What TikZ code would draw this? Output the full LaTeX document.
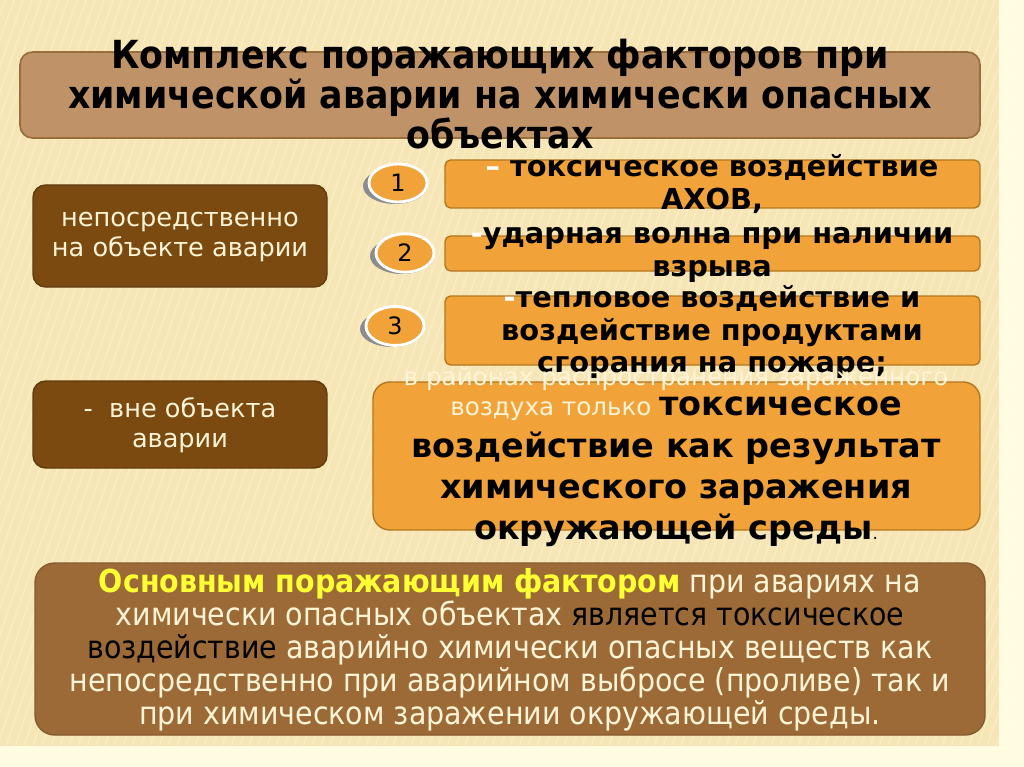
\documentclass[tikz,border=0pt]{standalone}
\usepackage{fontspec}
\setmainfont{DejaVu Sans}
\newfontfamily\condfont{DejaVu Sans Condensed}
\usetikzlibrary{shapes.geometric}

\definecolor{slidebg}{HTML}{F6E5B5}
\definecolor{paper}{HTML}{FFFCE2}
\definecolor{stripe}{HTML}{F9ECC6}
\definecolor{tanfill}{HTML}{BF9367}
\definecolor{tanline}{HTML}{9A6E3C}
\definecolor{darkbrown}{HTML}{7A4A10}
\definecolor{midbrown}{HTML}{9C6A36}
\definecolor{amber}{HTML}{F1A33A}
\definecolor{amberline}{HTML}{B3771F}
\definecolor{cream}{HTML}{FFF4D6}
\definecolor{lemon}{HTML}{FFFF33}

\tikzset{
  titlebox/.style={draw=tanline, line width=1.2pt, fill=tanfill, rounded corners=9pt},
  leftbox/.style={draw=darkbrown!80!black, line width=1pt, fill=darkbrown, rounded corners=9pt},
  bar/.style={draw=amberline, line width=1pt, fill=amber, rounded corners=4pt},
  bigbox/.style={draw=amberline, line width=1pt, fill=amber, rounded corners=12pt},
  notebox/.style={draw=midbrown!85!black, line width=1pt, fill=midbrown, rounded corners=14pt},
  numoval/.style={ellipse, draw=white, line width=2pt, fill=amber, minimum width=58*0.025cm,
    minimum height=30*0.025cm, font=\fontsize{17}{17}\selectfont},
  numshadow/.style={ellipse, fill=black!45, minimum width=64*0.025cm, minimum height=36*0.025cm},
  bartext/.style={align=center, font=\bfseries\fontsize{20.5}{23}\selectfont},
  lefttext/.style={align=center, text=cream, font=\fontsize{18.2}{21.5}\selectfont}
}

\begin{document}
\begin{tikzpicture}[x=0.025cm, y=-0.025cm]
  % page and textured slide
  \fill[paper] (0,0) rectangle (1024,767);
  \fill[slidebg] (0,0) rectangle (999,746);
  \begin{scope}
    \clip (0,0) rectangle (999,746);
    \foreach \s in {-300,-291,...,1000}
      \draw[stripe, line width=1pt] (\s,746) -- (\s+260,0);
  \end{scope}

  % heading
  \draw[titlebox] (20,52) rectangle (980,138);
  \node[align=center, font=\condfont\bfseries\fontsize{27.5}{28.5}\selectfont] (title) at (500,94)
    {Комплекс поражающих факторов при\\химической аварии на химически опасных\\объектах};

  % left column
  \draw[leftbox] (33,185) rectangle (327,287);
  \node[lefttext] (onsite) at (180,237) {непосредственно\\на объекте аварии};
  \draw[leftbox] (33,381) rectangle (327,468);
  \node[lefttext] (offsite) at (180,425) {-\ \ вне объекта\\аварии};

  % numbered factors
  \foreach \n/\cx/\cy in {1/398/183, 2/405/253, 3/395/326} {
    \node[numshadow] (sh\n) at (\cx-3,\cy+3) {};
    \node[numoval] (num\n) at (\cx,\cy) {\n};
  }

  \draw[bar] (445,160) rectangle (980,208);
  \node[bartext] (toxic) at (712,184) {{\color{white}–} токсическое воздействие\\АХОВ,};
  \draw[bar] (445,236) rectangle (980,271);
  \node[bartext] (blast) at (712,255) {{\color{white}-}ударная волна при наличии\\взрыва};
  \draw[bar] (445,296) rectangle (980,365);
  \node[bartext] (heat) at (712,332) {{\color{white}-}тепловое воздействие и\\воздействие продуктами\\сгорания на пожаре;};

  % contaminated zone
  \draw[bigbox] (373,382) rectangle (980,530);
  \node[align=center, text=cream, font=\fontsize{17.5}{22}\selectfont] (zone1) at (676,379)
    {в районах распространения заражённого};
  \node[align=center, font=\bfseries\fontsize{23.8}{29.5}\selectfont] (zone2) at (676,472)
    {{\mdseries\fontsize{17.5}{22}\selectfont\color{cream}воздуха только }токсическое\\
     воздействие как результат\\химического заражения\\окружающей среды{\mdseries\fontsize{12}{12}\selectfont.}};

  % conclusion
  \draw[notebox] (35,563) rectangle (985,735);
  \node[align=center, text=cream, font=\condfont\fontsize{22.5}{23.5}\selectfont] (note) at (510,650)
    {{\bfseries\color{lemon}Основным поражающим фактором} при авариях на\\
     химически опасных объектах {\color{black}является токсическое}\\
     {\color{black}воздействие} аварийно химически опасных веществ как\\
     непосредственно при аварийном выбросе (проливе) так и\\
     при химическом заражении окружающей среды.};
\end{tikzpicture}
\end{document}
